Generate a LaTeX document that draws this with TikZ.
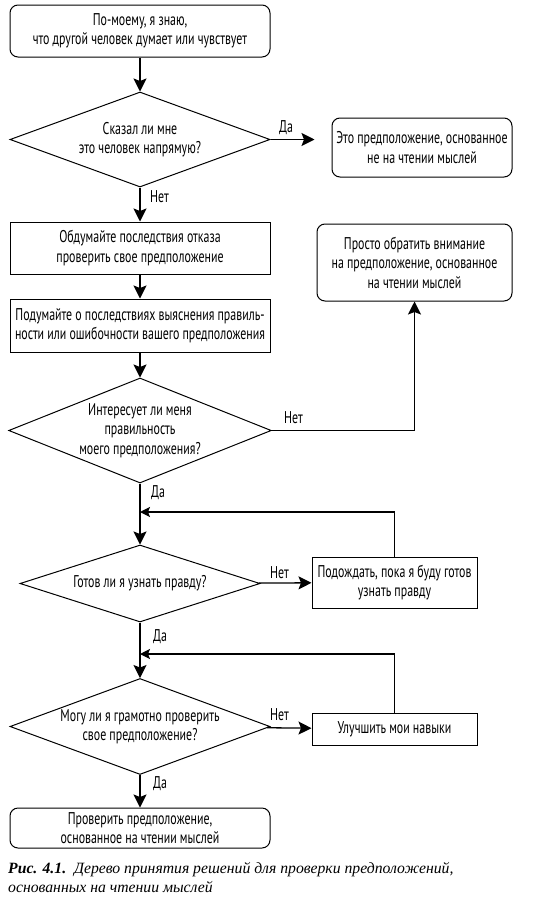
\documentclass[tikz,border=0pt]{standalone}
\usepackage{fontspec}
\setmainfont{Liberation Serif}
\newfontfamily\diafont[FakeStretch=0.7]{PT Sans}
\usetikzlibrary{shapes.geometric,arrows.meta}
\newcommand{\dfnt}{\diafont\fontsize{17}{19.5}\selectfont}
\begin{document}
\begin{tikzpicture}[x=1pt,y=-1pt,
  base/.style={draw,line width=1pt,inner sep=0pt,align=center,font=\dfnt},
  rbox/.style={base,rounded corners=8pt},
  rectbox/.style={base},
  dia/.style={base,diamond,aspect=2.6},
  lab/.style={font=\dfnt,inner sep=0pt,anchor=west},
  arr/.style={line width=1.3pt,-{Stealth[length=13pt,width=13pt,inset=2.5pt]}},
  farr/.style={line width=1.3pt,-{Stealth[length=10pt,width=10pt,inset=2pt]}}]
\useasboundingbox (0,0) rectangle (554,900);
\fill[white] (0,0) rectangle (554,900);

\node[rbox,minimum width=260pt,minimum height=52pt] (b1) at (140,31) {По-моему, я знаю,\\что другой человек думает или чувствует};
\node[dia,minimum width=260pt,minimum height=95pt] (d1) at (140,139.5) {Сказал ли мне\\это человек напрямую?};
\node[rbox,minimum width=180pt,minimum height=59pt] (y1) at (422,147.5) {Это предположение, основанное\\не на чтении мыслей};
\node[rectbox,minimum width=260pt,minimum height=52pt] (b2) at (140,248) {Обдумайте последствия отказа\\проверить свое предположение};
\node[rectbox,minimum width=260pt,minimum height=53pt] (b3) at (140,325.5) {Подумайте о последствиях выяснения правиль-\\ности или ошибочности вашего предположения};
\node[dia,minimum width=260pt,minimum height=105pt] (d3) at (140,430.5) {Интересует ли меня\\правильность\\моего предположения?};
\node[rbox,minimum width=195pt,minimum height=77pt] (p) at (414.5,262.5) {Просто обратить внимание\\на предположение, основанное\\на чтении мыслей};
\node[dia,minimum width=240pt,minimum height=77pt] (d4) at (140,583.5) {Готов ли я узнать правду?};
\node[rectbox,minimum width=165pt,minimum height=51pt] (w) at (394.5,582.5) {Подождать, пока я буду готов\\узнать правду};
\node[dia,minimum width=260pt,minimum height=87pt] (d5) at (140,726.5) {Могу ли я грамотно проверить\\свое предположение?};
\node[rectbox,minimum width=165pt,minimum height=32pt] (u) at (394.5,729) {Улучшить мои навыки};
\node[rbox,minimum width=260pt,minimum height=40pt] (f) at (140,828) {Проверить предположение,\\основанное на чтении мыслей};

\coordinate (j1) at (140,512);
\coordinate (j2) at (140,654);

\draw[arr] (b1) -- (d1);
\draw[arr,shorten >=17pt] (d1.east) -- (d1.east -| y1.west);
\draw[arr] (d1) -- (b2);
\draw[arr] (b2) -- (b3);
\draw[arr] (b3) -- (d3);
\draw[arr] (d3.east) -| (p.south);
\draw[arr] (d3.south) -- (d4.north);
\draw[arr] (d4) -- (w);
\draw[arr] (d4.south) -- (d5.north);
\draw[arr] (d5) -- (u);
\draw[arr] (d5) -- (f);
\draw[farr] (w.north) |- (j1);
\draw[farr] (u.north) |- (j2);

\node[lab] (l1) at (279,128) {Да};
\node[lab] (l2) at (150,197) {Нет};
\node[lab] (l3) at (284,418) {Нет};
\node[lab] (l4) at (151,493) {Да};
\node[lab] (l5) at (270,573) {Нет};
\node[lab] (l6) at (153,637) {Да};
\node[lab] (l7) at (270,715) {Нет};
\node[lab] (l8) at (153,784) {Да};

\node[anchor=base west,inner sep=0pt,font=\fontsize{15.7}{19}\selectfont\itshape,align=left] (cap) at (8,892) {\textbf{Рис. 4.1.}\ \ Дерево принятия решений для проверки предположений,\\основанных на чтении мыслей};
\end{tikzpicture}
\end{document}
